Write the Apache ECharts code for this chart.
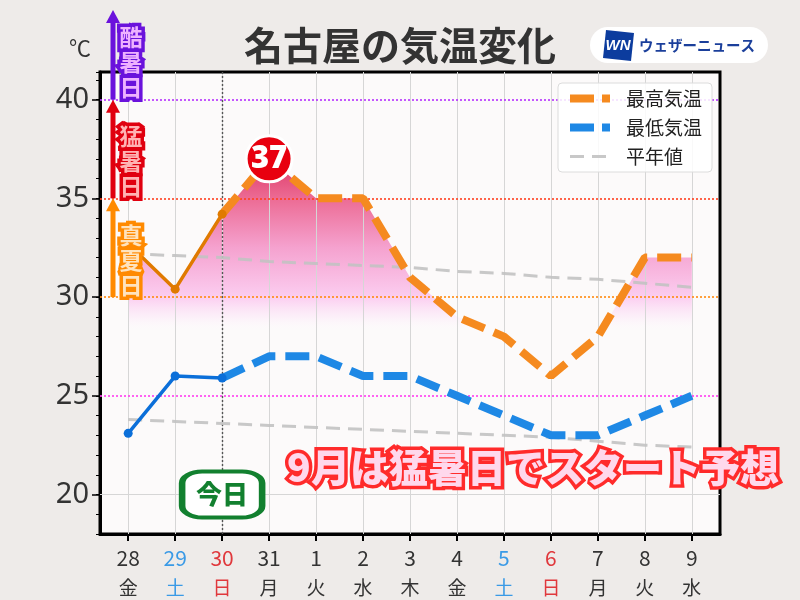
<!DOCTYPE html>
<html><head><meta charset="utf-8">
<script src="https://cdn.jsdelivr.net/npm/echarts@6/dist/echarts.min.js"></script>
<style>html,body{margin:0;padding:0;background:#eeebe9;}#c{width:800px;height:600px;}</style>
</head><body><div id="c"></div>
<script>
// ---- data ----
const dates = ['28','29','30','31','1','2','3','4','5','6','7','8','9'];
const weekdays = ['金','土','日','月','火','水','木','金','土','日','月','火','水'];
const maxTemp = [32.7, 30.4, 34.2, 37, 35, 35, 31, 29, 28, 26, 28, 32, 32];
const minTemp = [23.1, 26.0, 25.9, 27, 27, 26, 26, 25, 24, 23, 23, 24, 25];
const normalMax = [32.2, 32.1, 32.0, 31.8, 31.7, 31.6, 31.5, 31.3, 31.2, 31.0, 30.9, 30.7, 30.5];
const normalMin = [23.8, 23.7, 23.6, 23.5, 23.4, 23.3, 23.2, 23.1, 23.0, 22.9, 22.7, 22.5, 22.4];
const observedCount = 3;          // 28,29,30 are observed
const todayIndex = 2;
const peakIndex = 3;
const yLabelTicks = [20, 25, 30, 35, 40];
const thresholdValues = [25, 30, 35, 40];
const gridValue = 20;
const bandNames = ['真夏日', '猛暑日', '酷暑日'];
const titleText = '名古屋の気温変化';
const noteText = '9月は猛暑日でスタート予想';

// ---- helpers ----
const FONT = '"Noto Sans CJK JP", "Noto Sans", sans-serif';
const idx = dates.map((d, i) => i);
const pairs = arr => arr.map((v, i) => [i, v]);
const obsMax = pairs(maxTemp).slice(0, observedCount);
const fcMax = pairs(maxTemp).slice(observedCount - 1);
const obsMin = pairs(minTemp).slice(0, observedCount);
const fcMin = pairs(minTemp).slice(observedCount - 1);
const thresholdColors = {25: '#ff3cf0', 30: '#ff8a10', 35: '#ff4020', 40: '#b630ff'};
function dayClass(i) { return weekdays[i] === '土' ? 'sat' : (weekdays[i] === '日' ? 'sun' : 'n'); }

const chart = echarts.init(document.getElementById('c'));

const guideLines = [];
idx.forEach(i => guideLines.push({xAxis: i, lineStyle: {color: '#d6d6d6', width: 1, type: 'solid'}}));
guideLines.push({yAxis: gridValue, lineStyle: {color: '#d6d6d6', width: 1, type: 'solid'}});
thresholdValues.forEach(v => guideLines.push({yAxis: v, lineStyle: {color: thresholdColors[v], width: 1.6, type: [2, 2]}}));
guideLines.push({xAxis: todayIndex, lineStyle: {color: '#555', width: 1.4, type: [2, 2]}});

const hidden = {color: 'rgba(0,0,0,0)', borderWidth: 0, opacity: 0};
const option = {
  animation: false,
  backgroundColor: '#eeebe9',
  textStyle: {fontFamily: FONT},
  title: {
    text: titleText, left: 'center', top: 21,
    textStyle: {fontSize: 39, fontWeight: 'bold', color: '#333', fontFamily: FONT}
  },
  legend: {
    orient: 'vertical', left: 558, top: 83,
    backgroundColor: 'rgba(255,255,255,0.85)', borderColor: '#dcdcdc', borderWidth: 1, borderRadius: 4,
    padding: [6, 10, 6, 8], itemGap: 10, itemWidth: 40, itemHeight: 14,
    textStyle: {fontSize: 19, color: '#222', padding: [0, 0, 0, 11], fontFamily: FONT},
    itemStyle: hidden,
    data: [
      {name: '最高気温', itemStyle: hidden, lineStyle: {color: '#f58a1f', width: 8, type: [24, 8]}},
      {name: '最低気温', itemStyle: hidden, lineStyle: {color: '#1e88e5', width: 8, type: [24, 8]}},
      {name: '平年値', itemStyle: hidden, lineStyle: {color: '#c2c2c2', width: 3, type: [14, 8]}}
    ]
  },
  grid: [
    {left: 100, right: 80, top: 72, bottom: 66, show: true, backgroundColor: '#fcfafa', borderColor: '#000', borderWidth: 3},
    {left: 100, right: 80, top: 72, bottom: 66, show: false}
  ],
  xAxis: [
    {
      type: 'value', gridIndex: 0, min: -0.6, max: 12.6,
      axisLine: {show: true, onZero: false, lineStyle: {color: '#000', width: 3}},
      splitLine: {show: false},
      axisTick: {show: true, customValues: idx, length: 7, lineStyle: {color: '#000', width: 2}},
      axisLabel: {
        customValues: idx, margin: 9,
        formatter: v => { const i = Math.round(v); const c = dayClass(i); return '{' + c + '|' + dates[i] + '}\n{' + c + 'w|' + weekdays[i] + '}'; },
        rich: {
          n: {fontSize: 21, color: '#333', lineHeight: 30, fontFamily: FONT},
          nw: {fontSize: 19, color: '#333', lineHeight: 30, fontFamily: FONT},
          sat: {fontSize: 21, color: '#3a9ae6', lineHeight: 30, fontFamily: FONT},
          satw: {fontSize: 19, color: '#3a9ae6', lineHeight: 30, fontFamily: FONT},
          sun: {fontSize: 21, color: '#e0383c', lineHeight: 30, fontFamily: FONT},
          sunw: {fontSize: 19, color: '#e0383c', lineHeight: 30, fontFamily: FONT}
        }
      }
    },
    {type: 'value', gridIndex: 1, min: -0.6, max: 12.6, show: false, axisLine: {onZero: false}}
  ],
  yAxis: [
    {
      type: 'value', gridIndex: 0, min: 18, max: 41.4,
      axisLine: {show: true, onZero: false, lineStyle: {color: '#000', width: 3}},
      splitLine: {show: false},
      axisTick: {show: true, customValues: yLabelTicks, length: 8, lineStyle: {color: '#000', width: 1.5}},
      axisLabel: {customValues: yLabelTicks, fontSize: 29, color: '#333', margin: 11, fontFamily: '"Noto Sans", sans-serif'}
    },
    {
      type: 'value', gridIndex: 1, min: 18, max: 41.4, interval: 1, position: 'left',
      axisLine: {show: false, onZero: false}, splitLine: {show: false}, axisLabel: {show: false},
      axisTick: {show: true, length: 4, lineStyle: {color: '#000', width: 1}}
    }
  ],
  series: [
    {
      name: 'fill', type: 'line', z: 1, data: pairs(maxTemp), symbol: 'none', silent: true,
      lineStyle: {width: 0, opacity: 0},
      areaStyle: {color: 'rgba(240,150,200,0.5)', opacity: 1},
      markLine: {silent: true, z: 1.5, symbol: ['none', 'none'], label: {show: false}, animation: false, data: guideLines}
    },
    {name: '平年値', type: 'line', z: 2, data: pairs(normalMax), symbol: 'none', lineStyle: {color: '#c2c2c2', width: 3, type: [14, 8], opacity: 0.9}, itemStyle: {color: '#c2c2c2'}},
    {name: '平年値', type: 'line', z: 2, data: pairs(normalMin), symbol: 'none', lineStyle: {color: '#c2c2c2', width: 3, type: [14, 8], opacity: 0.9}, itemStyle: {color: '#c2c2c2'}},
    {name: '最高気温', type: 'line', z: 3, data: fcMax, symbol: 'none', lineStyle: {color: '#f58a1f', width: 8, type: [24, 10]}, itemStyle: {color: '#f58a1f'}},
    {name: '最低気温', type: 'line', z: 3, data: fcMin, symbol: 'none', lineStyle: {color: '#1e88e5', width: 8, type: [24, 10]}, itemStyle: {color: '#1e88e5'}},
    {name: '最高気温実況', type: 'line', z: 4, data: obsMax, symbol: 'circle', symbolSize: 9, lineStyle: {color: '#e07a00', width: 3.5}, itemStyle: {color: '#e07a00'}},
    {name: '最低気温実況', type: 'line', z: 4, data: obsMin, symbol: 'circle', symbolSize: 9, lineStyle: {color: '#0b6fd9', width: 3.5}, itemStyle: {color: '#0b6fd9'}},
    {
      name: 'peak', type: 'scatter', z: 6, data: [[peakIndex, maxTemp[peakIndex]]],
      symbol: 'circle', symbolSize: 46,
      itemStyle: {color: '#e8000f', borderColor: '#fff', borderWidth: 3, opacity: 1},
      label: {show: true, position: 'inside', formatter: p => String(Math.round(p.value[1])), color: '#fff', fontSize: 31, fontWeight: 900, fontFamily: '"Noto Sans", sans-serif'}
    },
    {
      name: 'today', type: 'scatter', z: 6, data: [[todayIndex, 20]],
      symbol: 'roundRect', symbolSize: [80, 46],
      itemStyle: {color: '#fff', borderColor: '#12802f', borderWidth: 5, opacity: 1},
      label: {show: true, position: 'inside', formatter: '今日', color: '#12802f', fontSize: 26, fontWeight: 900, fontFamily: FONT}
    }
  ]
};
chart.setOption(option);

// ---- second pass: pixel-based decorations from the library's scales ----
const py = v => chart.convertToPixel({yAxisIndex: 0}, v);
const yTop = py(37.2), yEnd = py(28.2);
const off = v => (py(v) - yTop) / (yEnd - yTop);
const grad = new echarts.graphic.LinearGradient(0, yTop, 0, yEnd, [
  {offset: 0, color: '#dc3260'},
  {offset: off(35), color: '#ec6b94'},
  {offset: off(32.5), color: '#f5a2cf'},
  {offset: off(30), color: '#fbcdf0'},
  {offset: off(29), color: 'rgba(252,232,248,0.6)'},
  {offset: 1, color: 'rgba(255,255,255,0)'}
], true);

const yb = [py(30), py(35), py(40)];
const arrowTop = [py(35), py(40), 10];
const arrowColors = ['#ff8a00', '#e0000f', '#6a12dc'];
const labelFill = ['#ffe3bd', '#ffb3b3', '#eeb2ff'];
const ax = 113;
const graphics = [];
for (let k = 0; k < 3; k++) {
  const bottom = yb[k], tip = arrowTop[k];
  graphics.push({type: 'rect', z: 50, shape: {x: ax - 2.5, y: tip + 10, width: 5, height: bottom - tip - 10}, style: {fill: arrowColors[k]}});
  graphics.push({type: 'polygon', z: 50, shape: {points: [[ax - 7, tip + 13], [ax + 7, tip + 13], [ax, tip]]}, style: {fill: arrowColors[k]}});
  graphics.push({
    type: 'text', z: 51, x: 131, y: bottom - 37,
    style: {text: bandNames[k].split('').join('\n'), font: 'bold 23px ' + FONT, lineHeight: 25,
      fill: labelFill[k], stroke: arrowColors[k], lineWidth: 7, strokeFirst: true, align: 'center', verticalAlign: 'middle'}
  });
}
// unit
graphics.push({type: 'text', z: 50, x: 80, y: 48, style: {text: '℃', font: '22px ' + FONT, fill: '#333', align: 'center', verticalAlign: 'middle'}});
// logo
graphics.push({type: 'rect', z: 50, shape: {x: 590, y: 27, width: 178, height: 36, r: 18}, style: {fill: '#fff'}});
graphics.push({type: 'polygon', z: 51, shape: {points: [[606, 30], [634, 33], [631, 61], [603, 58]]}, style: {fill: '#0c3c9e'}});
graphics.push({type: 'text', z: 52, x: 618, y: 46, style: {text: 'WN', font: 'italic bold 15px "Liberation Sans", sans-serif', fill: '#fff', align: 'center', verticalAlign: 'middle'}});
graphics.push({type: 'text', z: 52, x: 639, y: 45, style: {text: 'ウェザーニュース', font: 'bold 14.5px ' + FONT, fill: '#1b3f9b', align: 'left', verticalAlign: 'middle'}});
// note
graphics.push({type: 'text', z: 60, x: 533, y: 467, style: {text: noteText, font: '900 39px ' + FONT, fill: '#ffd8ec', stroke: '#ff2b2b', lineWidth: 7, strokeFirst: true, align: 'center', verticalAlign: 'middle'}});

chart.setOption({
  series: [{name: 'fill', areaStyle: {color: grad, opacity: 1}}],
  graphic: graphics
});
</script>
</body></html>
